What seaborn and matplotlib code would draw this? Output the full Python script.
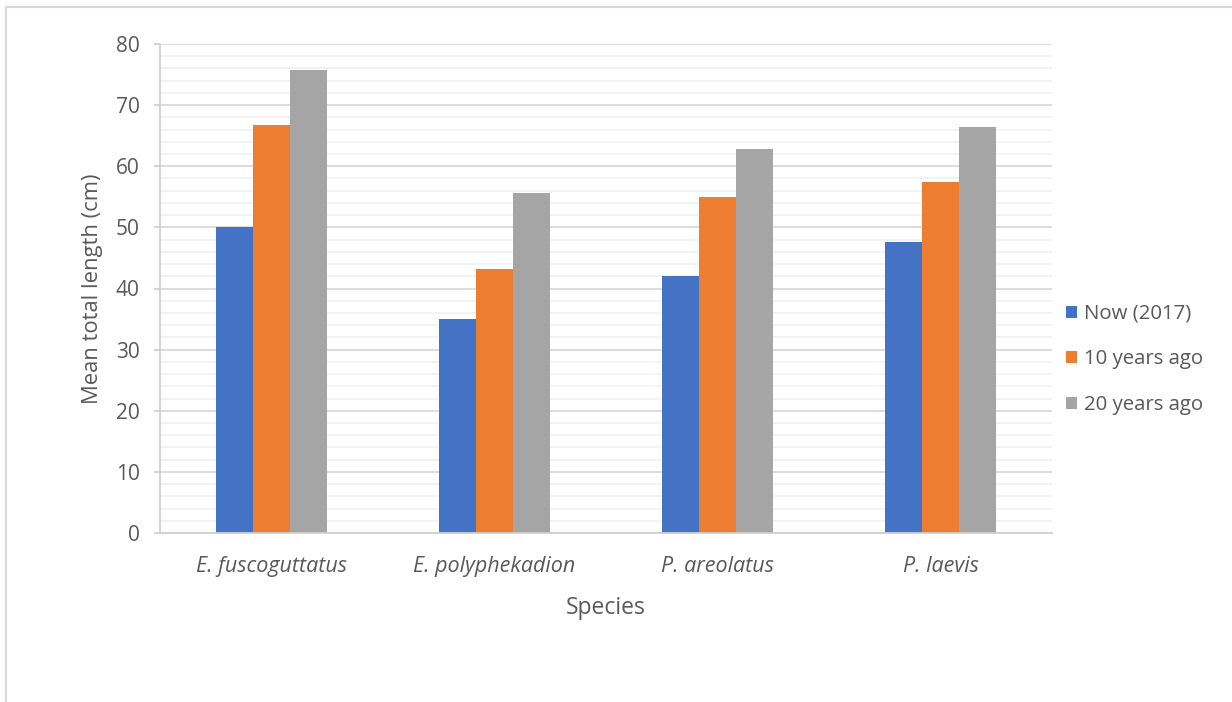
import numpy as np
import pandas as pd
import seaborn as sns
import matplotlib.pyplot as plt
from matplotlib.patches import Rectangle
from matplotlib.ticker import MultipleLocator

# values
species = ['E. fuscoguttatus', 'E. polyphekadion', 'P. areolatus', 'P. laevis']
periods = ['Now (2017)', '10 years ago', '20 years ago']
now_2017 = [50.0, 35.0, 42.0, 47.6]
ago_10 = [66.7, 43.2, 55.0, 57.5]
ago_20 = [75.8, 55.7, 62.8, 66.5]

colors = ['#4472C4', '#ED7D31', '#A5A5A5']
text_color = '#595959'

df = pd.DataFrame({
    'species': species * 3,
    'period': [p for p in periods for _ in species],
    'length': now_2017 + ago_10 + ago_20,
})

sns.set_style('white')
plt.rcParams['font.family'] = ['Open Sans', 'DejaVu Sans']

fig = plt.figure(figsize=(12.32, 7.02), dpi=100)
ax = fig.add_axes([160 / 1232, 1 - 533 / 702, 892 / 1232, 489 / 702])

sns.barplot(data=df, x='species', y='length', hue='period', hue_order=periods,
            palette=colors, width=0.5, linewidth=0, saturation=1, ax=ax)

ax.set_ylim(0, 80)
ax.set_xlim(-0.5, 3.5)
ax.yaxis.set_major_locator(MultipleLocator(10))
ax.yaxis.set_minor_locator(MultipleLocator(2))
ax.grid(axis='y', which='major', color='#d9d9d9', linewidth=1.3, zorder=0)
ax.grid(axis='y', which='minor', color='#f2f2f2', linewidth=1.3, zorder=0)
ax.set_axisbelow(True)

for side in ['top', 'right']:
    ax.spines[side].set_visible(False)
for side in ['left', 'bottom']:
    ax.spines[side].set_color('#d0d0d0')
    ax.spines[side].set_linewidth(1.3)

ax.tick_params(axis='y', which='major', left=True, length=4.5, color='#d0d0d0',
               width=1.3, labelsize=15, labelcolor=text_color, pad=10)
ax.tick_params(axis='y', which='minor', left=False)
ax.tick_params(axis='x', bottom=False, labelsize=15.5, labelcolor=text_color, pad=13)
for lbl in ax.get_xticklabels():
    lbl.set_fontstyle('italic')

ax.set_ylabel('Mean total length (cm)', fontsize=15.8, color=text_color, labelpad=9)
ax.set_xlabel('Species', fontsize=16.5, color=text_color, labelpad=14)

ax.legend(loc='center left', bbox_to_anchor=(0.995, 0.355), frameon=False,
          fontsize=14.7, labelcolor=text_color, handlelength=0.55, handleheight=0.55,
          handletextpad=0.35, labelspacing=1.25)

# outer chart frame (only top and left edges visible)
fig.patches.append(Rectangle((6 / 1232, -0.1), 1.2, 1 - 7 / 702 + 0.1,
                             transform=fig.transFigure, fill=False,
                             edgecolor='#d9d9d9', linewidth=1.5))

fig.savefig('out.png', dpi=100, facecolor='white')
